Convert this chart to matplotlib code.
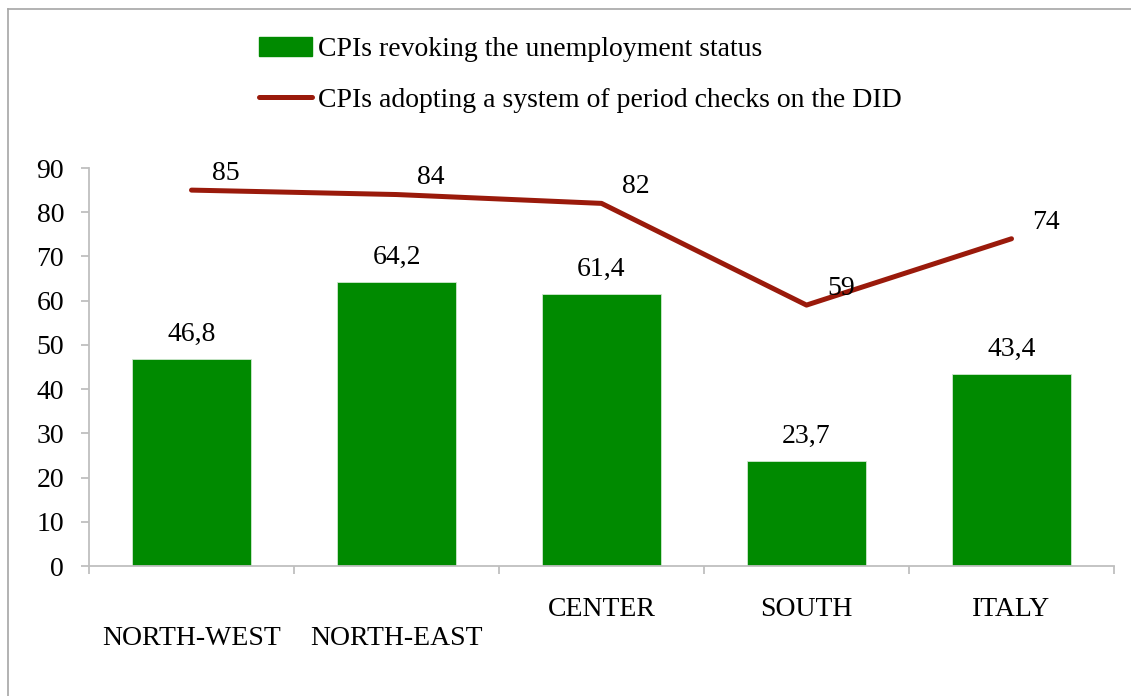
import matplotlib
matplotlib.use("Agg")
import matplotlib.pyplot as plt
from matplotlib.lines import Line2D
import numpy as np

# ---- data ----
regions = ["NORTH-WEST", "NORTH-EAST", "CENTER", "SOUTH", "ITALY"]
revoking = [46.8, 64.2, 61.4, 23.7, 43.4]
period_checks = [85, 84, 82, 59, 74]
bar_label = "CPIs revoking the unemployment status"
line_label = "CPIs adopting a system of period checks on the DID"

GREEN = "#008A00"
RED = "#9A1A0B"
GREY = "#BFBFBF"
FS = 20

plt.rcParams["font.family"] = ["Liberation Serif", "DejaVu Serif"]

fig = plt.figure(figsize=(11.31, 6.96), dpi=100)
ax = fig.add_axes([89 / 1131, 130 / 696, (1114 - 89) / 1131, (566 - 168) / 696])

x = np.arange(len(regions))
ax.bar(x, revoking, width=0.58, color=GREEN, edgecolor="#CFE8CF", linewidth=0.6,
       label=bar_label, zorder=2)
ax.plot(x, period_checks, color=RED, lw=3.6, solid_capstyle="round", label=line_label, zorder=3)

# data labels
for xi, v in zip(x, revoking):
    ax.annotate(f"{v:.1f}".replace(".", ","), (xi, v), xytext=(0, 9), textcoords="offset points",
                ha="center", va="bottom", fontsize=FS)
for xi, v in zip(x, period_checks):
    ax.annotate(f"{v}", (xi, v), xytext=(25, 12), textcoords="offset points",
                ha="center", va="center", fontsize=FS)

# axes
ax.set_xlim(-0.5, len(regions) - 0.5)
ax.set_ylim(0, 90)
ax.set_yticks(range(0, 91, 10))
for s in ["top", "right"]:
    ax.spines[s].set_visible(False)
for s in ["left", "bottom"]:
    ax.spines[s].set_color(GREY)
    ax.spines[s].set_linewidth(1.3)
ax.tick_params(axis="y", length=6, width=1.3, color=GREY, pad=12, labelsize=FS)
# staggered category labels like the original (first two wrapped one line lower)
ax.set_xticks(x)
ax.set_xticklabels(["\n" + r if i < 2 else r for i, r in enumerate(regions)], fontsize=FS,
                   linespacing=1.25)
ax.tick_params(axis="x", which="major", length=0, pad=22)
ax.set_xticks(np.arange(-0.5, len(regions)), minor=True)
ax.tick_params(axis="x", which="minor", length=6, width=1.3, color=GREY, direction="out")

# legend
handles = [plt.Rectangle((0, 0), 1, 1, color=GREEN),
           Line2D([0], [0], color=RED, lw=3.6, solid_capstyle="round")]
fig.legend(handles, [bar_label, line_label], loc="upper left",
           bbox_to_anchor=(259 / 1131, 1 - 37 / 696), frameon=False, fontsize=FS,
           handlelength=1.9, handletextpad=0.22, labelspacing=0.9, borderpad=0,
           borderaxespad=0)

# chart border (top and left visible)
fig.add_artist(Line2D([8 / 1131, 8 / 1131], [0, 1 - 9 / 696], transform=fig.transFigure,
                      color="#A6A6A6", lw=1.2))
fig.add_artist(Line2D([8 / 1131, 1], [1 - 9 / 696, 1 - 9 / 696], transform=fig.transFigure,
                      color="#A6A6A6", lw=1.2))

fig.savefig("out.png", dpi=100, facecolor="white")
